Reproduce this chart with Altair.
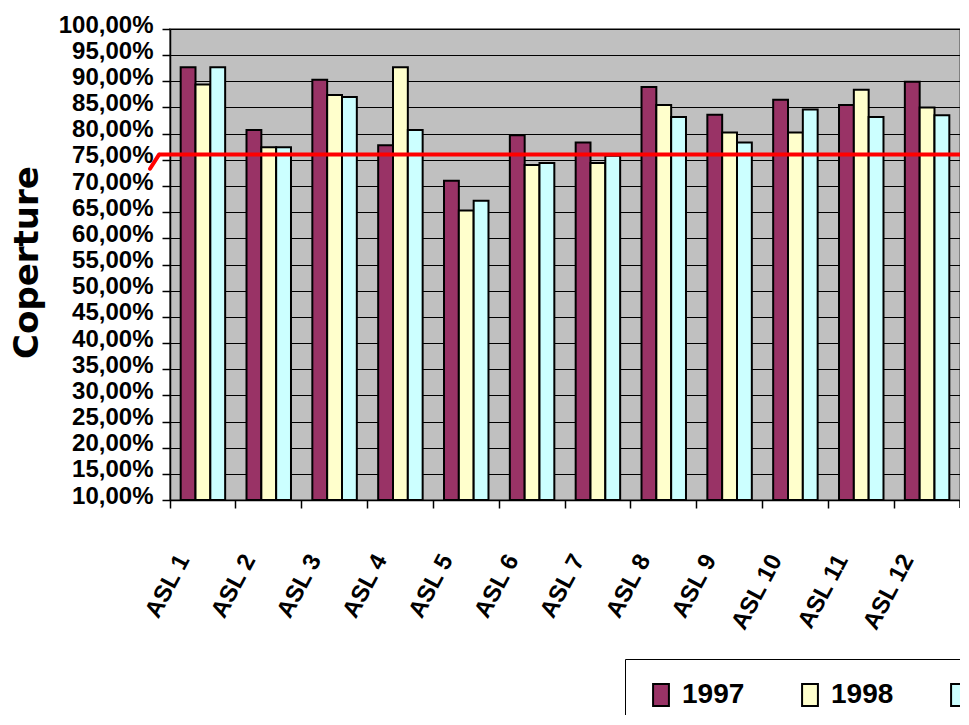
import altair as alt
import pandas as pd

categories = ["ASL 1", "ASL 2", "ASL 3", "ASL 4", "ASL 5", "ASL 6",
              "ASL 7", "ASL 8", "ASL 9", "ASL 10", "ASL 11", "ASL 12"]
years = ["1997", "1998", "1999"]
v1997 = [92.7, 80.7, 90.3, 77.8, 71.0, 79.7, 78.3, 88.9, 83.6, 86.5, 85.5, 89.9]
v1998 = [89.4, 77.4, 87.4, 92.7, 65.3, 74.0, 74.4, 85.5, 80.2, 80.2, 88.4, 85.0]
v1999 = [92.7, 77.4, 87.0, 80.7, 67.2, 74.4, 75.8, 83.2, 78.3, 84.6, 83.2, 83.5]
threshold = 76.0
threshold_start = 73.3
y_ticks = [10, 15, 20, 25, 30, 35, 40, 45, 50, 55, 60, 65, 70, 75, 80, 85, 90, 95, 100]
colors = ["#993366", "#FFFFCC", "#CCFFFF"]

rows = []
for yr, vals in zip(years, [v1997, v1998, v1999]):
    for c, v in zip(categories, vals):
        rows.append({"asl": c, "year": yr, "value": v})
df = pd.DataFrame(rows)

W, H = 790, 471
FONT = "Liberation Sans"

y_axis = alt.Axis(title="Coperture", values=y_ticks,
                  labelExpr="replace(format(datum.value, '.2f'), '.', ',') + '%'",
                  labelFont=FONT, labelFontSize=24, labelFontWeight="bold",
                  labelColor="black", labelPadding=9, labelBaseline="alphabetic",
                  labelOffset=3, labelOverlap=False, labelFlush=False,
                  tickSize=8, tickColor="black", tickWidth=1.5,
                  domainColor="black", domainWidth=1.5,
                  grid=True, gridColor="black", gridWidth=1,
                  titleFont="DejaVu Sans", titleFontSize=34, titleFontWeight="bold",
                  titleColor="black", titleAngle=-90, titleX=-143, titleY=233,
                  titleAlign="center", titleBaseline="middle")
y_scale = alt.Scale(domain=[10, 100], zero=False, nice=False)

bars = alt.Chart(df).mark_bar(stroke="black", strokeWidth=2).encode(
    x=alt.X("asl:N", sort=categories,
            scale=alt.Scale(paddingInner=0, paddingOuter=0),
            axis=alt.Axis(title=None, bandPosition=0, labelAngle=-62,
                          labelAlign="right", labelBaseline="middle",
                          labelOffset=-19, labelPadding=48, tickSize=8,
                          labelFont=FONT, labelFontSize=24, labelFontWeight="bold",
                          labelColor="black", domainColor="black", tickColor="black",
                          domainWidth=1.5, tickWidth=1.5, grid=False)),
    xOffset=alt.XOffset("year:N", sort=years,
                        scale=alt.Scale(paddingOuter=0.72, paddingInner=0)),
    y=alt.Y("value:Q", scale=y_scale, axis=y_axis),
    y2=alt.datum(10),
    color=alt.Color("year:N", scale=alt.Scale(domain=years, range=colors),
                    legend=alt.Legend(title=None, orient="none", legendX=455, legendY=630,
                                      direction="horizontal",
                                      symbolType="M-0.72,-1H0.72V1H-0.72Z",
                                      symbolSize=484, symbolStrokeColor="black",
                                      symbolStrokeWidth=2, symbolOpacity=1,
                                      labelFont=FONT, labelFontSize=28,
                                      labelFontWeight="bold", labelColor="black",
                                      labelOffset=7, columnPadding=51, padding=22,
                                      strokeColor="black", fillColor="white")),
)

line_df = pd.DataFrame({"value": [threshold]})
red_line = alt.Chart(line_df).mark_rule(color="#FF0000", strokeWidth=4).encode(
    y=alt.Y("value:Q", scale=y_scale, axis=y_axis), x=alt.value(-11), x2=alt.value(W + 8))

diag_df = pd.DataFrame({"value": [threshold_start], "value2": [threshold]})
red_diag = alt.Chart(diag_df).mark_rule(color="#FF0000", strokeWidth=4, strokeCap="round").encode(
    y=alt.Y("value:Q", scale=y_scale, axis=y_axis), y2="value2:Q",
    x=alt.value(-20), x2=alt.value(-11))

end_tick = alt.Chart(line_df).mark_rule(color="black", strokeWidth=1.5).encode(
    x=alt.value(W), y=alt.value(H), y2=alt.value(H + 8))

chart = alt.layer(bars, red_line, red_diag, end_tick).properties(
    width=W, height=H,
    autosize=alt.AutoSizeParams(type="none"),
    padding={"left": 162, "top": 21, "right": 0, "bottom": 215},
).configure_view(fill="#C0C0C0", stroke="#808080", strokeWidth=2)

chart.save("out.html", embed_options={"renderer": "svg", "actions": False})
